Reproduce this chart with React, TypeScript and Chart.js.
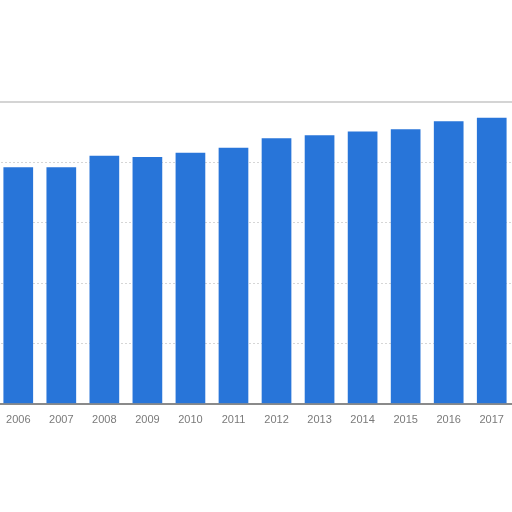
import React, { useEffect, useRef } from "react";
import { Chart, registerables } from "chart.js";

Chart.register(...registerables);

const years = ["2006", "2007", "2008", "2009", "2010", "2011", "2012", "2013", "2014", "2015", "2016", "2017"];
const values = [3.92, 3.92, 4.11, 4.09, 4.16, 4.24, 4.4, 4.45, 4.51, 4.55, 4.68, 4.74];
const yMax = 5;

export default function App() {
  const ref = useRef<HTMLCanvasElement | null>(null);
  useEffect(() => {
    if (!ref.current) return;
    const chart = new Chart(ref.current, {
      type: "bar",
      data: {
        labels: years,
        datasets: [
          {
            data: values,
            backgroundColor: "#2875d9",
            borderWidth: 0,
            categoryPercentage: 0.69,
            barPercentage: 1,
          },
        ],
      },
      options: {
        animation: false,
        responsive: true,
        maintainAspectRatio: false,
        layout: { padding: { top: 102, bottom: 75, left: 0, right: 0 } },
        plugins: { legend: { display: false }, tooltip: { enabled: false } },
        scales: {
          x: {
            grid: { display: false, drawTicks: false },
            border: { display: true, color: "#8a8a8a", width: 2 },
            ticks: {
              color: "#7a7a7a",
              padding: 10,
              font: { family: "'Liberation Sans', Arial, sans-serif", size: 11 },
              maxRotation: 0,
            },
          },
          xTop: {
            position: "top",
            grid: { display: false, drawTicks: false },
            border: { display: true, color: "#d4d4d4", width: 2 },
            ticks: { display: false },
          },
          y: {
            min: 0,
            max: yMax,
            ticks: { display: false, stepSize: 1 },
            border: { display: false, dash: [2, 2] },
            grid: {
              drawTicks: false,
              color: "#d6d6d6",
            },
          },
        },
      },
    });
    return () => chart.destroy();
  }, []);
  return (
    <div style={{ position: "absolute", left: -4, top: 0, width: 518, height: 512, background: "#fff" }}>
      <canvas ref={ref} />
    </div>
  );
}
